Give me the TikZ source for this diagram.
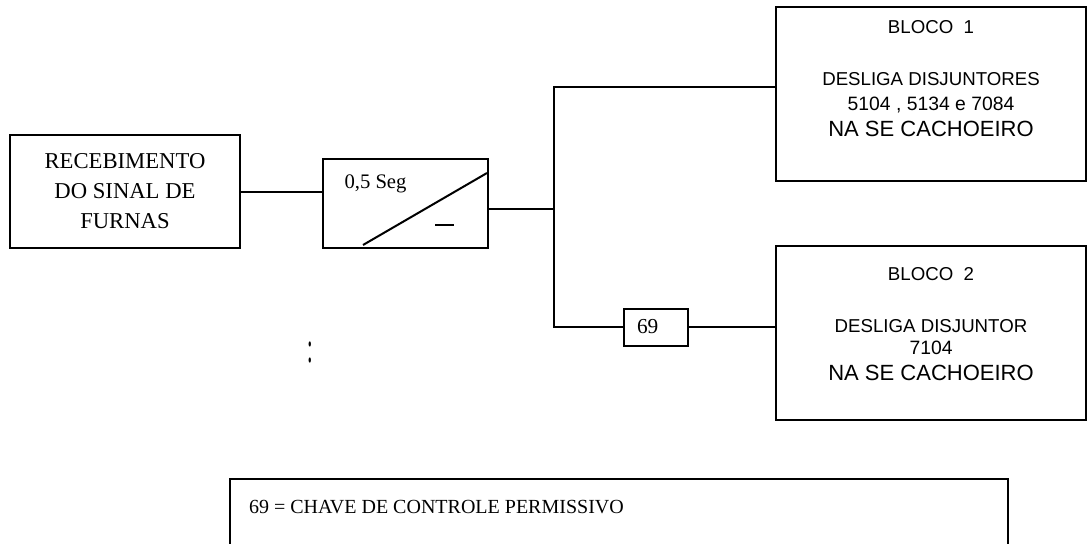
\documentclass[tikz,border=0pt]{standalone}
\usepackage{fontspec}
\setmainfont{Liberation Serif}
\newfontfamily\arialf{Liberation Sans}
\begin{document}
\begin{tikzpicture}[x=0.75pt,y=-0.75pt,line width=1.5pt,
  blk/.style={draw,line width=1.5pt,inner sep=0pt,rectangle},
  sanstxt/.style={font=\arialf\fontsize{14}{16}\selectfont,anchor=base,inner sep=0pt},
  midsans/.style={font=\arialf\fontsize{14.5}{17}\selectfont,anchor=base,inner sep=0pt},
  bigsans/.style={font=\arialf\fontsize{16.5}{19}\selectfont,anchor=base,inner sep=0pt},
  serif/.style={inner sep=0pt}]
\useasboundingbox (0,0) rectangle (1087,543);
\clip (0,0) rectangle (1087,543);
\fill[white] (0,0) rectangle (1087,543);

% left box
\node[blk,minimum width=172.5pt,minimum height=84.75pt,align=center,
  font=\fontsize{17}{22.5}\selectfont] (rec) at (125,191.5)
  {RECEBIMENTO\\DO SINAL DE\\FURNAS};

% timer box
\node[blk,minimum width=123.75pt,minimum height=66.75pt] (timer) at (405.5,203.5) {};
\node[serif,anchor=base,font=\fontsize{15.5}{18}\selectfont] (tlabel) at (375.5,188) {0,5 Seg};
\coordinate (dA) at (363,245);
\coordinate (dB) at (487,173);
\draw (dA) -- (dB);
\coordinate (mA) at (435,225);
\coordinate (mB) at (454,225);
\draw (mA) -- (mB);

% block 1
\node[blk,minimum width=232.5pt,minimum height=130.5pt] (b1) at (931,94) {};
\node[sanstxt] (b1t1) at (931,33.5) {BLOCO\ \ 1};
\node[sanstxt] (b1t2) at (931,85.5) {DESLIGA DISJUNTORES};
\node[midsans] (b1t3) at (931,110.5) {5104 , 5134 e 7084};
\node[bigsans] (b1t4) at (931,136.8) {NA SE CACHOEIRO};

% block 2
\node[blk,minimum width=232.5pt,minimum height=130.5pt] (b2) at (931,333) {};
\node[sanstxt] (b2t1) at (931,280.5) {BLOCO\ \ 2};
\node[sanstxt] (b2t2) at (931,332.5) {DESLIGA DISJUNTOR};
\node[midsans] (b2t3) at (931,354.5) {7104};
\node[bigsans] (b2t4) at (931,380.8) {NA SE CACHOEIRO};

% 69 box
\node[blk,minimum width=48pt,minimum height=27.75pt,font=\fontsize{16}{18}\selectfont] (p69) at (656,327.5)
  {\makebox[28.5pt][l]{\raisebox{2.25pt}{69}}};

% connectors
\coordinate (tout) at (487,209);
\coordinate (jm) at (554,209);
\coordinate (j1) at (554,87);
\coordinate (j2) at (554,326.5);
\draw (rec.east) -- (rec.east -| timer.west);
\draw (tout) -- (jm);
\draw (j1 -| b1.west) -- (j1) -- (j2) -- (j2 -| p69.west);
\draw (j2 -| p69.east) -- (j2 -| b2.west);

% colon
\node[serif,font=\fontsize{15}{18}\selectfont] (colon) at (310,352) {\scalebox{1}[2.2]{:}};

% legend
\coordinate (lgA) at (230,479);
\coordinate (lgB) at (1008,620);
\draw (lgA) rectangle (lgB);
\node[serif,anchor=base west,font=\fontsize{15}{18}\selectfont] (legtext) at (248,513)
  {69 = CHAVE DE CONTROLE PERMISSIVO};
\end{tikzpicture}
\end{document}
